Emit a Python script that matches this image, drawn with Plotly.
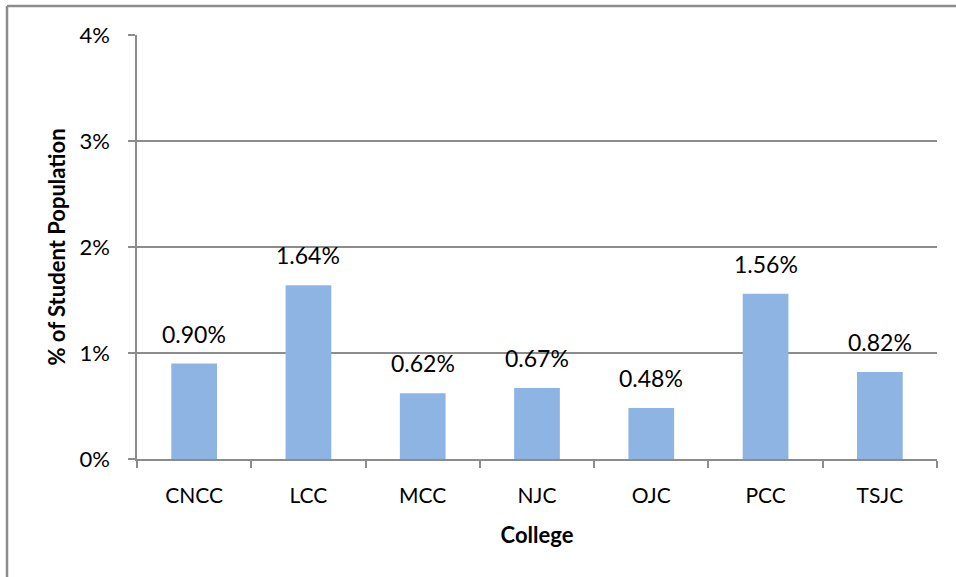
import plotly.graph_objects as go

colleges = ["CNCC", "LCC", "MCC", "NJC", "OJC", "PCC", "TSJC"]
pct_values = [0.90, 1.64, 0.62, 0.67, 0.48, 1.56, 0.82]
y_ticks = [0, 1, 2, 3, 4]
y_tick_labels = ["0%", "1%", "2%", "3%", "4%"]

FONT = "Lato"
GRAY = "#8c8c8c"

fig = go.Figure()
fig.add_trace(go.Bar(
    x=colleges, y=pct_values,
    marker=dict(color="#8eb4e3", line=dict(width=0)),
    hoverinfo="skip",
))

for c, v in zip(colleges, pct_values):
    fig.add_annotation(
        x=c, y=v, text=f"{v:.2f}%", showarrow=False,
        yanchor="bottom", yshift=14,
        font=dict(family=FONT, size=23, color="#000000"),
    )

fig.update_layout(
    width=956, height=577,
    margin=dict(l=137, r=19, t=35, b=118),
    paper_bgcolor="white", plot_bgcolor="white",
    bargap=0.6,
    showlegend=False,
    font=dict(family=FONT, color="#000000"),
    xaxis=dict(
        showline=True, linecolor=GRAY, linewidth=1.5,
        ticks="outside", ticklen=7, tickcolor=GRAY, tickwidth=1.5,
        tickson="boundaries",
        ticklabelstandoff=17,
        tickfont=dict(family=FONT, size=21),
        title=dict(text="<b>College</b>", font=dict(family=FONT, size=22), standoff=22),
        fixedrange=True,
    ),
    yaxis=dict(
        range=[0, 4], tickvals=y_ticks, ticktext=y_tick_labels,
        showline=True, linecolor=GRAY, linewidth=1.5,
        showgrid=True, gridcolor=GRAY, gridwidth=1.5,
        ticks="outside", ticklen=7, tickcolor=GRAY, tickwidth=1.5,
        ticklabelstandoff=14,
        tickfont=dict(family=FONT, size=22),
        title=dict(text="<b>% of Student Population</b>", font=dict(family=FONT, size=22), standoff=8),
        zeroline=False,
        fixedrange=True,
    ),
    shapes=[
        dict(type="line", xref="paper", yref="paper", layer="above",
             ysizemode="pixel", yanchor=1, y0=29, y1=29,
             x0=-0.1625, x1=1.1,
             line=dict(color=GRAY, width=2.5)),
        dict(type="line", xref="paper", yref="paper", layer="above",
             x0=-0.1625, x1=-0.1625, y0=(459 - 6) / 424, y1=-0.3,
             line=dict(color=GRAY, width=2.5)),
    ],
)

fig.write_html("out.html", config={"displayModeBar": False},
               post_script="document.body.style.margin='0'; document.body.style.overflow='hidden';")
